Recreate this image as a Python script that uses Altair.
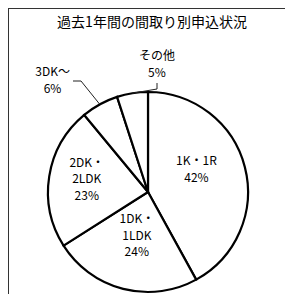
import math
import altair as alt
import pandas as pd

# ---- data ----
categories = ["1K・1R", "1DK・1LDK", "2DK・2LDK", "3DK～", "その他"]
label_names = ["1K・1R", "1DK・\n1LDK", "2DK・\n2LDK", "3DK～", "その他"]
shares = [42, 24, 23, 6, 5]
title_text = "過去1年間の間取り別申込状況"

FONT = "Noto Sans CJK JP"
W, H = 277, 286
CX, CY, R = 140, 184, 100
TOTAL = sum(shares)
TWO_PI = 2 * math.pi
LINE_H = 16.5

df = pd.DataFrame({
    "category": categories,
    "label": [f"{n}\n{v}%" for n, v in zip(label_names, shares)],
    "share": shares,
    "order": list(range(len(categories))),
})

# pie slices
pie = alt.Chart(df).mark_arc(
    outerRadius=R, fill="white", stroke="black", strokeWidth=2.2
).encode(
    theta=alt.Theta("share:Q", stack=True, scale=alt.Scale(range=[0, TWO_PI])),
    order=alt.Order("order:Q"),
    x=alt.value(CX),
    y=alt.value(CY),
)

# labels placed at their slice angle (radius + nudge per label)
label_style = {
    "1K・1R": (50, 0, -10),
    "1DK・1LDK": (45, 0, 0),
    "2DK・2LDK": (62, 0, -3),
    "3DK～": (140, -28, 11),
    "その他": (128, 29, -1),
}

text_base = alt.Chart(df).transform_window(
    cum="sum(share)", sort=[alt.SortField("order")]
).transform_calculate(mid="datum.cum - datum.share / 2")

label_layers = []
for cat, lab in zip(categories, df["label"]):
    rad, dx, dy = label_style[cat]
    n_lines = lab.count("\n") + 1
    label_layers.append(
        text_base.transform_filter(alt.datum.category == cat).mark_text(
            radius=rad, dx=dx, dy=dy - (n_lines - 1) * LINE_H / 2,
            lineBreak="\n", font=FONT,
            fontSize=12, lineHeight=LINE_H, color="black", align="center",
            baseline="middle",
        ).encode(
            theta=alt.Theta("mid:Q", scale=alt.Scale(domain=[0, TOTAL], range=[0, TWO_PI])),
            text="label:N",
            x=alt.value(CX),
            y=alt.value(CY),
        )
    )

# leader lines: from label elbow to the slice's mid point on the rim
cum = 0
mids = {}
for c, v in zip(categories, shares):
    mids[c] = (cum + v / 2) / TOTAL * TWO_PI
    cum += v

leader_elbows = {
    "3DK～": [(65, 73), (73, 73)],
    "その他": [(149, 75), (149, 81)],
}
rows = []
for c, pts in leader_elbows.items():
    a = mids[c]
    end = (CX + R * math.sin(a), CY - R * math.cos(a))
    for i, (px, py) in enumerate(pts + [end]):
        rows.append({"grp": c, "i": i, "px": px, "py": py})
leaders = alt.Chart(pd.DataFrame(rows)).mark_line(
    color="#222", strokeWidth=1
).encode(
    x=alt.X("px:Q", scale=None, axis=None),
    y=alt.Y("py:Q", scale=None, axis=None),
    detail="grp:N",
    order="i:Q",
)

title = alt.Chart(pd.DataFrame({"t": [title_text]})).mark_text(
    font=FONT, fontSize=14, color="black", align="center", baseline="middle"
).encode(text="t:N", x=alt.value(144), y=alt.value(15))

frame_left = alt.Chart(pd.DataFrame({"a": [0]})).mark_rule(
    color="#333", strokeWidth=1
).encode(x=alt.value(0.5), y=alt.value(0), y2=alt.value(H))
frame_top = alt.Chart(pd.DataFrame({"a": [0]})).mark_rule(
    color="#333", strokeWidth=1
).encode(y=alt.value(0.5), x=alt.value(0), x2=alt.value(W))

chart = alt.layer(
    frame_left, frame_top, pie, leaders, title, *label_layers
).resolve_scale(theta="independent").properties(
    width=W, height=H, autosize=alt.AutoSizeParams(type="none"), padding=0,
    background="white",
).configure_view(stroke=None)

chart.save("out.html", embed_options={"renderer": "svg", "actions": False})
